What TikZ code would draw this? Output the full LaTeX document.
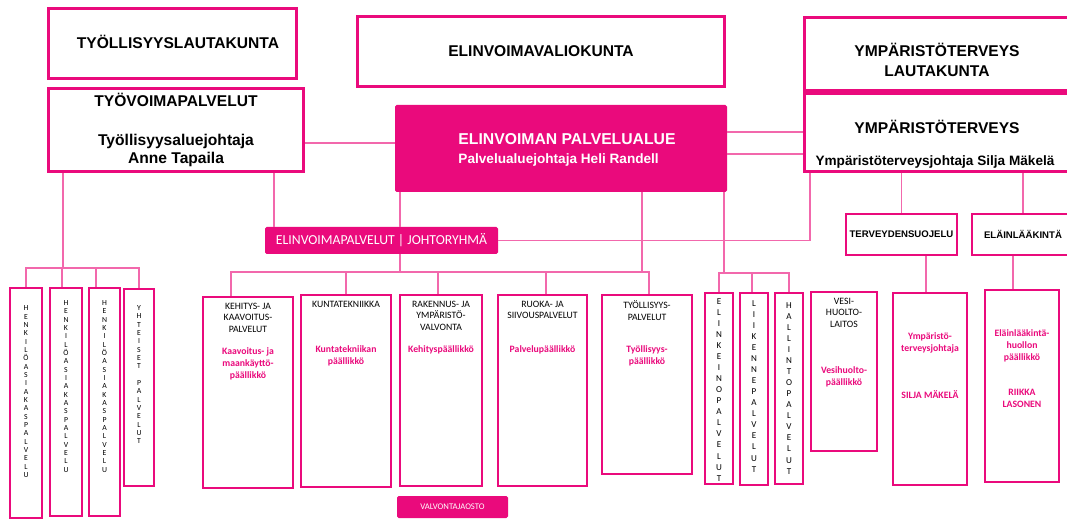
\documentclass[tikz,border=0pt]{standalone}
\usepackage{fontspec}
\setmainfont{Liberation Sans}
\newfontfamily\calib{Carlito}
\usetikzlibrary{positioning,calc}

\definecolor{rubine}{RGB}{234,10,124}
\definecolor{linkpink}{RGB}{242,104,172}

\tikzset{
  sz/.style 2 args={minimum width=#1pt,minimum height=#2pt},
  board/.style={draw=rubine,line width=2.4pt,fill=white,inner sep=0pt,align=center,
    font=\bfseries\fontsize{11.7}{13.5}\selectfont},
  unit/.style={draw=rubine,line width=1.5pt,fill=white,inner sep=0pt},
  subunit/.style={unit,font=\bfseries\fontsize{7.2}{9}\selectfont},
  banner/.style={fill=rubine,rounded corners=1.2pt,text=white,inner sep=0pt},
  unitname/.style={font=\calib\fontsize{7.3}{8.6}\selectfont,align=center,inner sep=0pt},
  headname/.style={font=\calib\bfseries\fontsize{7.3}{9}\selectfont,text=rubine,align=center,inner sep=0pt},
  letters/.style={font=\calib\fontsize{5.8}{6.25}\selectfont,align=center,inner sep=0pt},
  bigletters/.style={font=\calib\fontsize{6.8}{8.3}\selectfont,align=center,inner sep=0pt},
  link/.style={draw=linkpink,line width=1.1pt},
}

\begin{document}
\begin{tikzpicture}[x=0.75pt,y=-0.75pt]
\clip (0,0) rectangle (1067,520);
\fill[white] (0,0) rectangle (1067,520);

% boards and service area
\node[board,sz={186}{52.4}] (tlk) at (172.5,43.5) {};
\node[board,draw=none,fill=none] (tlkT) at (178,42) {TYÖLLISYYSLAUTAKUNTA};
\node[board,sz={191.1}{62.1}] (tvp) at (176,130)
  {TYÖVOIMAPALVELUT\\[15.75pt]Työllisyysaluejohtaja\\Anne Tapaila};
\node[board,sz={275.1}{52.4}] (evk) at (541,51.5) {ELINVOIMAVALIOKUNTA};
\node[banner,sz={249}{65.25}] (epa) at (561,148.5) {};
\node[text=white,align=left,inner sep=0pt,font=\bfseries\fontsize{11.8}{14.25}\selectfont] (epaT) at (567,149.5)
  {ELINVOIMAN PALVELUALUE\\{\fontsize{10.2}{14.25}\selectfont Palvelualuejohtaja Heli Randell}};
\node[board,sz={198.6}{54.6}] (ytlk) at (937,54) {};
\node[font=\bfseries\fontsize{11.7}{15}\selectfont,align=center,inner sep=0pt] (ytlkT) at (937,60)
  {YMPÄRISTÖTERVEYS\\LAUTAKUNTA};
\node[board,sz={198.6}{58.4}] (yt) at (937,132.5) {};
\node[font=\bfseries\fontsize{11.7}{13}\selectfont,inner sep=0pt] (ytT) at (937,127) {YMPÄRISTÖTERVEYS};
\node[font=\bfseries\fontsize{10.2}{12}\selectfont,inner sep=0pt] (ytS) at (935,162) {Ympäristöterveysjohtaja Silja Mäkelä};

\node[banner,sz={174.75}{20.25},font=\calib\fontsize{10.3}{11}\selectfont] (johto) at (381.5,240.5)
  {ELINVOIMAPALVELUT | JOHTORYHMÄ};
\node[banner,sz={83.25}{16.5},font=\calib\fontsize{6.5}{7}\selectfont] (valv) at (452.5,507) {VALVONTAJAOSTO};
\node[subunit,sz={83.25}{30.75}] (terv) at (901.5,234.5) {TERVEYDENSUOJELU};
\node[subunit,sz={76.5}{30.75}] (elain) at (1023,234.5) {ELÄINLÄÄKINTÄ};

% employment services, left
\node[unit,sz={24}{172.5}] (henk1) at (26,403) {};
\node[unit,sz={24}{171}] (henk2) at (66,402) {};
\node[unit,sz={23.25}{171}] (henk3) at (104.5,402) {};
\node[unit,sz={22.5}{147.75}] (yhteiset) at (139,387.5) {};
\node[letters,below=13.9pt of henk1.north] (henk1T)
  {H\\E\\N\\K\\I\\L\\Ö\\A\\S\\I\\A\\K\\A\\S\\P\\A\\L\\V\\E\\L\\U};
\node[letters,below=10pt of henk2.north] (henk2T)
  {H\\E\\N\\K\\I\\L\\Ö\\A\\S\\I\\A\\K\\A\\S\\P\\A\\L\\V\\E\\L\\U};
\node[letters,below=10pt of henk3.north] (henk3T)
  {H\\E\\N\\K\\I\\L\\Ö\\A\\S\\I\\A\\K\\A\\S\\P\\A\\L\\V\\E\\L\\U};
\node[letters,below=13pt of yhteiset.north] (yhteisetT)
  {Y\\H\\T\\E\\I\\S\\E\\T\\~\\P\\A\\L\\V\\E\\L\\U\\T};

% units
\node[unit,sz={67.5}{143.25}] (kehitys) at (248,392.5) {};
\node[unit,sz={67.5}{144}] (kunta) at (346,391) {};
\node[unit,sz={61.5}{143.25}] (rakennus) at (441,390.5) {};
\node[unit,sz={66.75}{143.25}] (ruoka) at (542.5,390.5) {};
\node[unit,sz={67.5}{134.25}] (tyollis) at (647,384.5) {};
\node[unit,sz={21}{143.25}] (elinkeino) at (719,388.5) {};
\node[unit,sz={21}{144}] (liikenne) at (754,389) {};
\node[unit,sz={21}{143.25}] (hallinto) at (789,388.5) {};
\node[unit,sz={49.5}{119.25}] (vesi) at (844,371.5) {};
\node[unit,sz={55.5}{144}] (ympjoht) at (930,389) {};
\node[unit,sz={55.5}{144}] (elainph) at (1022,386) {};

\node[unitname,below=5pt of kehitys.north] (kehitysT) {KEHITYS- JA\\KAAVOITUS-\\PALVELUT};
\node[headname,below=38.5pt of kehitys.north] (kehitysH) {Kaavoitus- ja\\maankäyttö-\\päällikkö};
\node[unitname,below=5pt of kunta.north] (kuntaT) {KUNTATEKNIIKKA};
\node[headname,below=38.5pt of kunta.north] (kuntaH) {Kuntatekniikan\\päällikkö};
\node[unitname,below=5pt of rakennus.north] (rakennusT) {RAKENNUS- JA\\YMPÄRISTÖ-\\VALVONTA};
\node[headname,below=38.5pt of rakennus.north] (rakennusH) {Kehityspäällikkö};
\node[unitname,below=5pt of ruoka.north] (ruokaT) {RUOKA- JA\\SIIVOUSPALVELUT};
\node[headname,below=38.5pt of ruoka.north] (ruokaH) {Palvelupäällikkö};
\node[unitname,below=5pt of tyollis.north] (tyollisT) {TYÖLLISYYS-\\PALVELUT};
\node[headname,below=38.5pt of tyollis.north] (tyollisH) {Työllisyys-\\päällikkö};
\node[bigletters,below=4.5pt of elinkeino.north] (elinkeinoT)
  {E\\L\\I\\N\\K\\E\\I\\N\\O\\P\\A\\L\\V\\E\\L\\U\\T};
\node[bigletters,below=6pt of liikenne.north] (liikenneT)
  {L\\I\\I\\K\\E\\N\\N\\E\\P\\A\\L\\V\\E\\L\\U\\T};
\node[bigletters,below=7.5pt of hallinto.north] (hallintoT)
  {H\\A\\L\\L\\I\\N\\T\\O\\P\\A\\L\\V\\E\\L\\U\\T};
\node[unitname,below=5pt of vesi.north] (vesiT) {VESI-\\HUOLTO-\\LAITOS};
\node[headname,below=56.5pt of vesi.north] (vesiH) {Vesihuolto-\\päällikkö};
\node[headname,below=30pt of ympjoht.north] (ympjohtH)
  {Ympäristö-\\terveysjohtaja\\[26.25pt]SILJA MÄKELÄ};
\node[headname,below=30.5pt of elainph.north] (elainphH)
  {Eläinlääkintä-\\huollon\\päällikkö\\[17.25pt]RIIKKA\\LASONEN};

% connectors, left
\coordinate (lbus) at (63,268);
\draw[link] (tvp.south -| lbus) -- (lbus);
\draw[link] (henk1.north) |- (lbus) -| (yhteiset.north);
\draw[link] (lbus -| 62,0) -- (henk2.north -| 62,0);
\draw[link] (lbus -| 96,0) -- (henk3.north -| 96,0);
\draw[link] (tvp.south -| 274,0) -- (johto.north -| 274,0);
\draw[link] (tvp.east |- 0,143) -- (epa.west |- 0,143);

% connectors, middle
\coordinate (mbus) at (400,272);
\draw[link] (epa.south -| mbus) -- (johto.north -| mbus);
\draw[link] (johto.south -| mbus) -- (mbus);
\draw[link] (kehitys.north -| 231,0) |- (mbus) -| (tyollis.north -| 649,0);
\draw[link] (epa.south -| 642,0) -- (mbus -| 642,0);
\draw[link] (kunta.north) -- (kunta.north |- mbus);
\draw[link] (rakennus.north -| 438,0) -- (mbus -| 438,0);
\draw[link] (ruoka.north -| 546,0) -- (mbus -| 546,0);

\coordinate (rbus) at (724,273);
\draw[link] (epa.south -| rbus) -- (rbus);
\draw[link] (elinkeino.north) |- (rbus) -| (hallinto.north);
\draw[link] (liikenne.north -| 752,0) -- (rbus -| 752,0);

% connectors, right
\draw[link] (epa.east |- 0,132) -- (yt.west |- 0,132);
\draw[link] (epa.east |- 0,154) -- (yt.west |- 0,154);
\draw[link] (yt.south -| 810,0) |- (johto.east);
\draw[link] (yt.south -| terv.north) -- (terv.north);
\draw[link] (yt.south -| elain.north) -- (elain.north);
\draw[link] (terv.south -| 926,0) -- (ympjoht.north -| 926,0);
\draw[link] (elain.south -| 1013,0) -- (elainph.north -| 1013,0);
\end{tikzpicture}
\end{document}
